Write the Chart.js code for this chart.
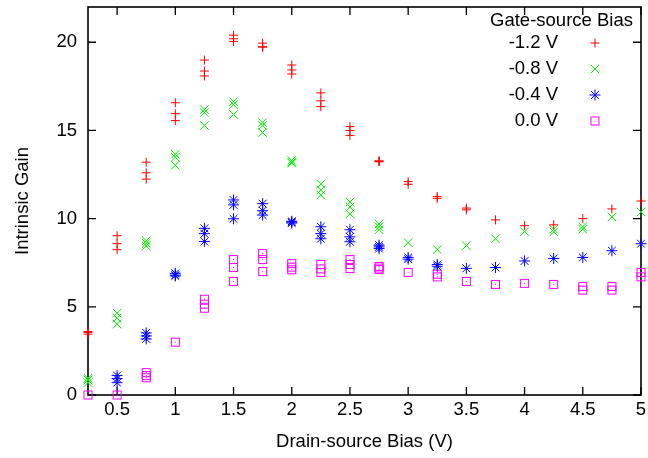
<!DOCTYPE html>
<html>
<head>
<meta charset="utf-8">
<title>Intrinsic Gain vs Drain-source Bias</title>
<script src="https://cdn.jsdelivr.net/npm/chart.js@4/dist/chart.umd.min.js"></script>
<style>
  html, body { margin: 0; padding: 0; background: #fff; }
  #wrap { width: 648px; height: 458px; }
</style>
</head>
<body>
<div id="wrap"><canvas id="c" width="648" height="458"></canvas></div>
<script>
// Drain-source bias steps (V); each step has repeated gain measurements.
const drainBias = [0.25, 0.5, 0.75, 1.0, 1.25, 1.5, 1.75, 2.0, 2.25, 2.5,
                   2.75, 3.0, 3.25, 3.5, 3.75, 4.0, 4.25, 4.5, 4.75, 5.0];

// Intrinsic gain at Vgs = -1.2 V
const gainVgsM12 = [
  [3.6, 3.55, 3.45], [9.03, 8.58, 8.24], [13.2, 12.6, 12.24], [16.57, 15.95, 15.56],
  [18.99, 18.37, 18.09], [20.4, 20.2, 20.05], [19.95, 19.75, 19.72], [18.71, 18.43, 18.2],
  [17.13, 16.68, 16.35], [15.22, 15.0, 14.72], [13.28, 13.25, 13.22], [12.1, 11.95],
  [11.25, 11.15], [10.6, 10.5], [9.93], [9.6], [9.65], [10.0], [10.55], [11.0]
];
// Intrinsic gain at Vgs = -0.8 V
const gainVgsM08 = [
  [0.95, 0.85, 0.7], [4.64, 4.36, 4.02], [8.75, 8.6, 8.45], [13.65, 13.48, 13.03],
  [16.18, 16.01, 15.28], [16.63, 16.46, 15.9], [15.45, 15.28, 14.88], [13.3, 13.2, 13.15],
  [11.96, 11.62, 11.34], [10.94, 10.66, 10.27], [9.7, 9.54, 9.37], [8.64],
  [8.25], [8.47], [8.86], [9.26], [9.4, 9.25], [9.55, 9.4], [10.1], [10.38]
];
// Intrinsic gain at Vgs = -0.4 V
const gainVgsM04 = [
  [], [1.1, 0.93, 0.7], [3.52, 3.35, 3.18], [6.9, 6.8, 6.75],
  [9.45, 9.15, 8.7], [11.06, 10.78, 9.99], [10.85, 10.45, 10.2], [9.85, 9.8, 9.75],
  [9.54, 9.15, 8.86], [9.37, 8.97, 8.69], [8.5, 8.4, 8.3], [7.8, 7.7],
  [7.4, 7.3], [7.18], [7.23], [7.6], [7.74], [7.8], [8.18], [8.58]
];
// Intrinsic gain at Vgs = 0.0 V
const gainVgs00 = [
  [0], [0], [1.27, 1.1, 0.98], [3.0],
  [5.43, 5.15, 4.92], [7.68, 7.23, 6.44], [8.02, 7.68, 7.0], [7.45, 7.25, 7.1],
  [7.4, 7.15, 6.95], [7.68, 7.4, 7.17], [7.29, 7.2, 7.12], [6.95],
  [6.85, 6.7], [6.44], [6.27], [6.33], [6.27], [6.15, 5.95], [6.15, 5.95], [6.95, 6.7]
];

const seriesLabels = ['-1.2 V', '-0.8 V', '-0.4 V', '0.0 V'];
const legendTitle = 'Gate-source Bias';
const xTickValues = [0.5, 1, 1.5, 2, 2.5, 3, 3.5, 4, 4.5, 5];
const yTickValues = [0, 5, 10, 15, 20];

const FONT = '"Liberation Sans", Arial, Helvetica, sans-serif';
const FONT_SIZE = 18.5;

// Open square marker with a centre dot
function makeBoxMarker(color) {
  const cv = document.createElement('canvas');
  cv.width = 11; cv.height = 11;
  const g = cv.getContext('2d');
  g.strokeStyle = color;
  g.lineWidth = 1;
  g.strokeRect(1.5, 1.5, 8, 8);
  g.fillStyle = color;
  g.fillRect(5, 5, 1, 1);
  return cv;
}

function toPoints(values) {
  return drainBias.flatMap((x, i) => values[i].map(y => ({ x, y })));
}

const seriesStyles = [
  { color: '#ff0000', pointStyle: 'cross', radius: 4.5 },
  { color: '#00ee00', pointStyle: 'crossRot', radius: 6 },
  { color: '#0000ff', pointStyle: 'star', radius: 5.5 },
  { color: '#ff00ff', pointStyle: makeBoxMarker('#ff00ff'), radius: 5 }
];
const seriesValues = [gainVgsM12, gainVgsM08, gainVgsM04, gainVgs00];

const datasets = seriesValues.map((vals, k) => ({
  label: seriesLabels[k],
  data: toPoints(vals),
  showLine: false,
  clip: false,
  borderColor: seriesStyles[k].color,
  backgroundColor: seriesStyles[k].color,
  pointStyle: seriesStyles[k].pointStyle,
  pointRadius: seriesStyles[k].radius,
  pointHoverRadius: seriesStyles[k].radius,
  pointBorderWidth: 1
}));

// Frame with inward ticks on all four sides (gnuplot style)
const framePlugin = {
  id: 'frame',
  beforeDatasetsDraw(chart) {
    const { ctx, chartArea: a, scales } = chart;
    const tick = 8;
    ctx.save();
    ctx.strokeStyle = '#000';
    ctx.lineWidth = 1.6;
    ctx.strokeRect(a.left, a.top, a.right - a.left, a.bottom - a.top);
    ctx.lineWidth = 1.3;
    ctx.beginPath();
    scales.x.ticks.forEach(t => {
      const px = scales.x.getPixelForValue(t.value);
      ctx.moveTo(px, a.bottom); ctx.lineTo(px, a.bottom - tick);
      ctx.moveTo(px, a.top); ctx.lineTo(px, a.top + tick);
    });
    scales.y.ticks.forEach(t => {
      const py = scales.y.getPixelForValue(t.value);
      ctx.moveTo(a.left, py); ctx.lineTo(a.left + tick, py);
      ctx.moveTo(a.right, py); ctx.lineTo(a.right - tick, py);
    });
    ctx.stroke();
    ctx.restore();
  }
};

// Key: title line, then labels right-aligned with the marker to their right
const keyPlugin = {
  id: 'key',
  afterDatasetsDraw(chart) {
    const { ctx } = chart;
    ctx.save();
    ctx.font = FONT_SIZE + 'px ' + FONT;
    ctx.fillStyle = '#000';
    ctx.textBaseline = 'middle';
    ctx.textAlign = 'center';
    ctx.fillText(legendTitle, 561.5, 21);
    chart.data.datasets.forEach((ds, i) => {
      const y = 43 + 26 * i;
      ctx.textAlign = 'right';
      ctx.fillStyle = '#000';
      ctx.fillText(ds.label, 558, y);
      ctx.strokeStyle = ds.borderColor;
      ctx.fillStyle = ds.backgroundColor;
      ctx.lineWidth = 1;
      Chart.helpers.drawPoint(ctx, {
        pointStyle: ds.pointStyle,
        radius: ds.pointRadius,
        borderWidth: 1,
        rotation: 0
      }, 595, y);
    });
    ctx.restore();
  }
};

// Drop the label-overhang padding so the plot frame keeps a fixed position
function noOverhang(scale) {
  scale.paddingTop = 0;
  scale.paddingBottom = 0;
  scale.paddingLeft = 0;
  scale.paddingRight = 0;
}

Chart.defaults.font.family = FONT;
Chart.defaults.font.size = FONT_SIZE;
Chart.defaults.color = '#000';

new Chart(document.getElementById('c'), {
  type: 'scatter',
  data: { datasets },
  options: {
    responsive: false,
    animation: false,
    events: [],
    layout: { padding: { top: 3, right: 4, left: 0, bottom: 0 } },
    plugins: {
      legend: { display: false },
      tooltip: { enabled: false }
    },
    scales: {
      x: {
        type: 'linear',
        min: 0.25,
        max: 5,
        afterBuildTicks(scale) { scale.ticks = xTickValues.map(v => ({ value: v })); },
        afterFit(scale) { scale.height = 63; noOverhang(scale); },
        grid: { display: false, drawTicks: false },
        border: { display: false },
        ticks: { padding: 4, maxRotation: 0, autoSkip: false, callback: v => String(v) },
        title: {
          display: true,
          text: 'Drain-source Bias (V)',
          padding: { top: 0, bottom: 5 }
        }
      },
      y: {
        type: 'linear',
        min: 0,
        max: 22,
        afterBuildTicks(scale) { scale.ticks = yTickValues.map(v => ({ value: v })); },
        afterFit(scale) { scale.width = 88; noOverhang(scale); },
        grid: { display: false, drawTicks: false },
        border: { display: false },
        ticks: { padding: 11, autoSkip: false, callback: v => String(v) },
        title: {
          display: true,
          text: 'Intrinsic Gain',
          padding: { top: 12, bottom: 0 }
        }
      }
    }
  },
  plugins: [framePlugin, keyPlugin]
});
</script>
</body>
</html>
